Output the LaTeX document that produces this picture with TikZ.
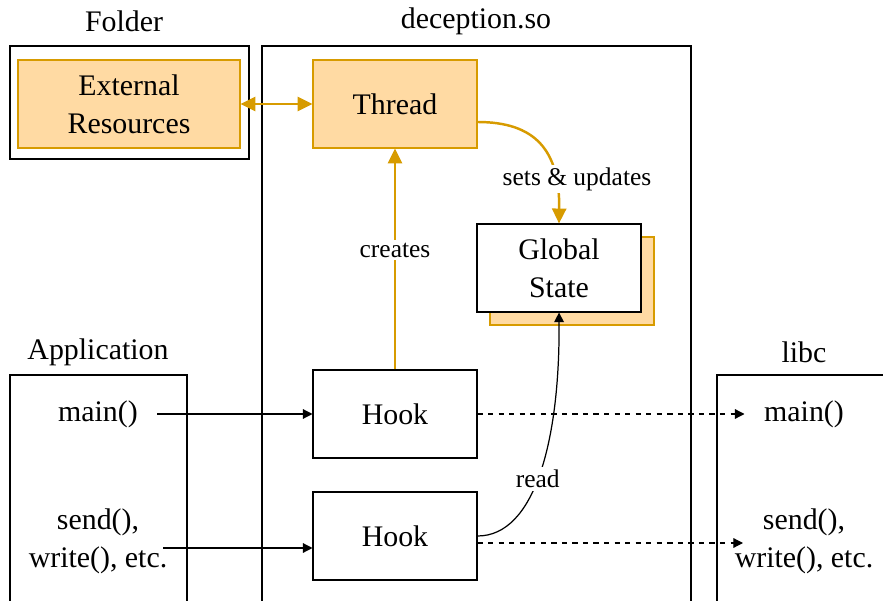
\documentclass[tikz,border=0pt]{standalone}
\usepackage{fontspec}
\setmainfont{Liberation Serif}
\usetikzlibrary{arrows.meta, positioning, calc}
\definecolor{paleorange}{HTML}{FFDAA3}
\definecolor{darkorange}{HTML}{D79B00}

\begin{document}
\begin{tikzpicture}[x=0.02cm, y=-0.02cm,
	every node/.style={font=\fontsize{17}{21.5}\selectfont},
	box/.style={draw=black, line width=0.6pt, fill=white, minimum width=3.28cm, minimum height=1.76cm, align=center},
	orangebox/.style={box, draw=darkorange, fill=paleorange},
	frame/.style={draw=black, line width=0.6pt},
	fn/.style={align=center, inner xsep=11pt},
	edgetext/.style={font=\fontsize{14.5}{17}\selectfont, fill=white, inner sep=1.5pt},
	call/.style={-{Triangle[length=5.5pt,width=5.5pt]}, line width=0.7pt},
	feed/.style={draw=darkorange, line width=1.4pt}]
				\useasboundingbox (0,0) rectangle (883,601);

				\draw[frame] (10,46) rectangle (249,159);
				\draw[frame] (262,46) rectangle (691,620);
				\draw[frame] (10,375) rectangle (187,620);
				\draw[frame] (717,375) rectangle (900,620);

				\node (foldertitle) at (124,21) {Folder};
				\node (sotitle) at (476,21) {deception.so};
				\node (apptitle) at (98,352) {Application};
				\node (libctitle) at (804,352) {libc};

				\node[orangebox, minimum width=4.44cm] (ExtRes) at (129,104) {External\\Resources};
				\node[orangebox] (Thread) at (395,104) {Thread};

				\draw[fill=paleorange, draw=darkorange, line width=0.6pt] (490,237) rectangle (654,325);
				\node[box] (Global) at (559,268) {Global\\State};

				\node[box] (Hook1) at (395,414) {Hook};
				\node[box] (Hook2) at (395,536) {Hook};

				\node[fn] (appmain) at (98,414) {main()};
				\node[fn] (appsend) at (98,541) {send(),\\write(), etc.};
				\node[fn] (libmain) at (804,414) {main()};
				\node[fn] (libsend) at (804,541) {send(),\\write(), etc.};

				\coordinate (sendout) at (163,548);
				\coordinate (libin) at (743,543);

				\draw[feed, {Triangle[length=8.5pt,width=8pt]}-{Triangle[length=8.5pt,width=8pt]}] (ExtRes) -- (Thread);
				\draw[feed, -{Triangle[length=8.5pt,width=8pt]}] (Hook1) -- node[edgetext, pos=0.54] {creates} (Thread);
				\draw[feed, -{Triangle[length=8.5pt,width=8pt]}] ($(Thread.east)+(0,18)$) .. controls (535,122) and (560,150) .. (Global.north);
				\node[edgetext] (setslabel) at (577,179) {sets \& updates};

				\draw[call] (appmain) -- (Hook1);
				\draw[call] (sendout) -- (sendout -| Hook2.west);
				\draw[call, dashed] (Hook1) -- (libmain);
				\draw[call, dashed] (Hook2.east |- libin) -- (libin);
				\draw[call] (Hook2.east) .. controls (535,536) and (560,440) .. node[edgetext, pos=0.47] {read} (Global.south);

			\end{tikzpicture}
\end{document}
